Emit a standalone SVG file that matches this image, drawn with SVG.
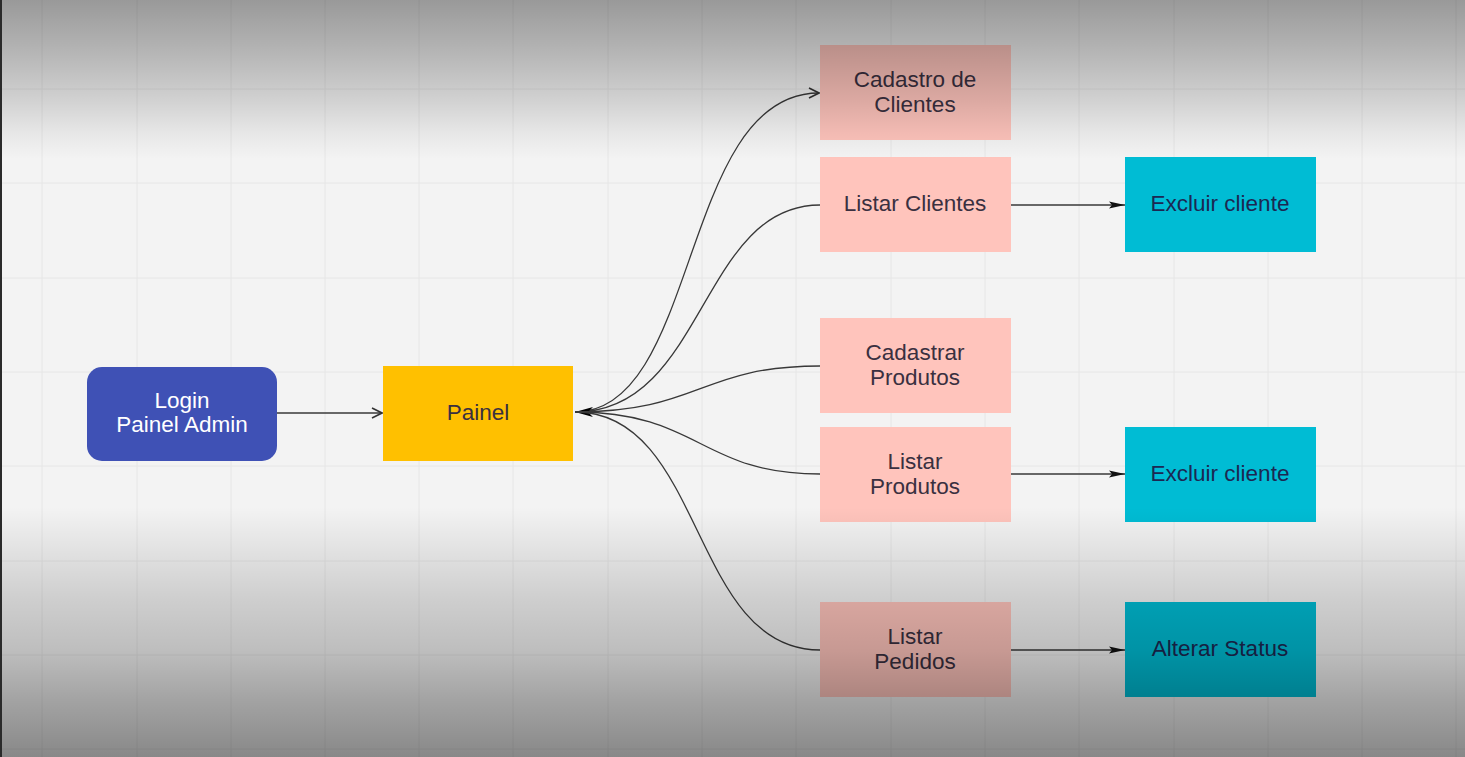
<svg xmlns="http://www.w3.org/2000/svg" width="1465" height="757" viewBox="0 0 1465 757">
<defs>
<style>
.grid line{stroke:#e6e6e6;stroke-width:1}
.lbl{font-family:"Liberation Sans",Arial,sans-serif;font-size:22.5px;text-anchor:middle}
.pink{fill:#ffc4bc}
.cyan{fill:#00bcd4}
.dark{fill:#3a3040}
.navy{fill:#1c2852}
.conn{fill:none;stroke:#383838;stroke-width:1.3}
</style>
<marker id="open" viewBox="0 0 12 12" refX="11" refY="6" markerWidth="12" markerHeight="12" markerUnits="userSpaceOnUse" orient="auto">
<path d="M1,1 L11,6 L1,11" fill="none" stroke="#333" stroke-width="1.6"/>
</marker>
<marker id="fill" viewBox="0 0 16 8" refX="16" refY="4" markerWidth="16" markerHeight="8" markerUnits="userSpaceOnUse" orient="auto">
<path d="M0,0.5 L16,4 L0,7.5 L3,4 Z" fill="#111"/>
</marker>
<marker id="fillStart" viewBox="0 0 18 12" refX="0" refY="6" markerWidth="18" markerHeight="12" markerUnits="userSpaceOnUse" orient="0">
<path d="M18,1 L0,6 L18,11 L13,6 Z" fill="#000"/>
</marker>
<linearGradient id="vig" gradientUnits="userSpaceOnUse" x1="0" y1="0" x2="0" y2="757">
<stop offset="0" stop-color="#000" stop-opacity="0.37"/>
<stop offset="0.066" stop-color="#000" stop-opacity="0.26"/>
<stop offset="0.132" stop-color="#000" stop-opacity="0.14"/>
<stop offset="0.176" stop-color="#000" stop-opacity="0.05"/>
<stop offset="0.21" stop-color="#000" stop-opacity="0"/>
<stop offset="0.67" stop-color="#000" stop-opacity="0"/>
<stop offset="0.79" stop-color="#000" stop-opacity="0.15"/>
<stop offset="0.86" stop-color="#000" stop-opacity="0.22"/>
<stop offset="0.925" stop-color="#000" stop-opacity="0.33"/>
<stop offset="1" stop-color="#000" stop-opacity="0.44"/>
</linearGradient>
</defs>
<rect x="0" y="0" width="1465" height="757" fill="#f3f3f3"/>
<g class="grid">
<line x1="42" y1="0" x2="42" y2="757"/>
<line x1="137" y1="0" x2="137" y2="757"/>
<line x1="231" y1="0" x2="231" y2="757"/>
<line x1="325" y1="0" x2="325" y2="757"/>
<line x1="419" y1="0" x2="419" y2="757"/>
<line x1="513" y1="0" x2="513" y2="757"/>
<line x1="608" y1="0" x2="608" y2="757"/>
<line x1="702" y1="0" x2="702" y2="757"/>
<line x1="796" y1="0" x2="796" y2="757"/>
<line x1="891" y1="0" x2="891" y2="757"/>
<line x1="985" y1="0" x2="985" y2="757"/>
<line x1="1079" y1="0" x2="1079" y2="757"/>
<line x1="1174" y1="0" x2="1174" y2="757"/>
<line x1="1268" y1="0" x2="1268" y2="757"/>
<line x1="1362" y1="0" x2="1362" y2="757"/>
<line x1="1456" y1="0" x2="1456" y2="757"/>
<line x1="0" y1="89" x2="1465" y2="89"/>
<line x1="0" y1="183" x2="1465" y2="183"/>
<line x1="0" y1="278" x2="1465" y2="278"/>
<line x1="0" y1="372" x2="1465" y2="372"/>
<line x1="0" y1="466" x2="1465" y2="466"/>
<line x1="0" y1="561" x2="1465" y2="561"/>
<line x1="0" y1="655" x2="1465" y2="655"/>
<line x1="0" y1="749" x2="1465" y2="749"/>
</g>
<g id="connectors">
<line class="conn" x1="277" y1="413" x2="382" y2="413" marker-end="url(#open)"/>
<path class="conn" d="M575,412 C700,412 680,93 819,93" stroke-width="1.8" stroke="#2a2a2a" marker-end="url(#open)"/>
<path class="conn" d="M575,412 C705,412 700,205 820,205" marker-start="url(#fillStart)"/>
<path class="conn" d="M575,412 C700,412 700,366 820,366"/>
<path class="conn" d="M575,412 C700,412 700,474 820,474"/>
<path class="conn" d="M575,412 C705,412 690,650 820,650"/>
<line class="conn" x1="1011" y1="205" x2="1125" y2="205" marker-end="url(#fill)"/>
<line class="conn" x1="1011" y1="474" x2="1125" y2="474" marker-end="url(#fill)"/>
<line class="conn" x1="1011" y1="650" x2="1125" y2="650" marker-end="url(#fill)"/>
</g>
<g id="login">
<rect x="87" y="367" width="190" height="94" rx="15" fill="#3f51b5"/>
<text class="lbl" x="182" y="408" fill="#fff">Login</text>
<text class="lbl" x="182" y="432" fill="#fff">Painel Admin</text>
</g>
<g id="painel">
<rect x="383" y="366" width="190" height="95" fill="#ffc000"/>
<text class="lbl dark" x="478" y="420">Painel</text>
</g>
<g id="cadastro-clientes">
<rect class="pink" x="820" y="45" width="191" height="95"/>
<text class="lbl dark" x="915" y="87">Cadastro de</text>
<text class="lbl dark" x="915" y="112">Clientes</text>
</g>
<g id="listar-clientes">
<rect class="pink" x="820" y="157" width="191" height="95"/>
<text class="lbl dark" x="915" y="211">Listar Clientes</text>
</g>
<g id="cadastrar-produtos">
<rect class="pink" x="820" y="318" width="191" height="95"/>
<text class="lbl dark" x="915" y="360">Cadastrar</text>
<text class="lbl dark" x="915" y="385">Produtos</text>
</g>
<g id="listar-produtos">
<rect class="pink" x="820" y="427" width="191" height="95"/>
<text class="lbl dark" x="915" y="469">Listar</text>
<text class="lbl dark" x="915" y="494">Produtos</text>
</g>
<g id="listar-pedidos">
<rect class="pink" x="820" y="602" width="191" height="95"/>
<text class="lbl dark" x="915" y="644">Listar</text>
<text class="lbl dark" x="915" y="669">Pedidos</text>
</g>
<g id="excluir-cliente-1">
<rect class="cyan" x="1125" y="157" width="191" height="95"/>
<text class="lbl navy" x="1220" y="211">Excluir cliente</text>
</g>
<g id="excluir-cliente-2">
<rect class="cyan" x="1125" y="427" width="191" height="95"/>
<text class="lbl navy" x="1220" y="481">Excluir cliente</text>
</g>
<g id="alterar-status">
<rect class="cyan" x="1125" y="602" width="191" height="95"/>
<text class="lbl navy" x="1220" y="656">Alterar Status</text>
</g>
<rect x="0" y="0" width="1465" height="757" fill="url(#vig)" pointer-events="none"/>
<rect x="0" y="0" width="2" height="757" fill="#2a2a2a"/>
</svg>
